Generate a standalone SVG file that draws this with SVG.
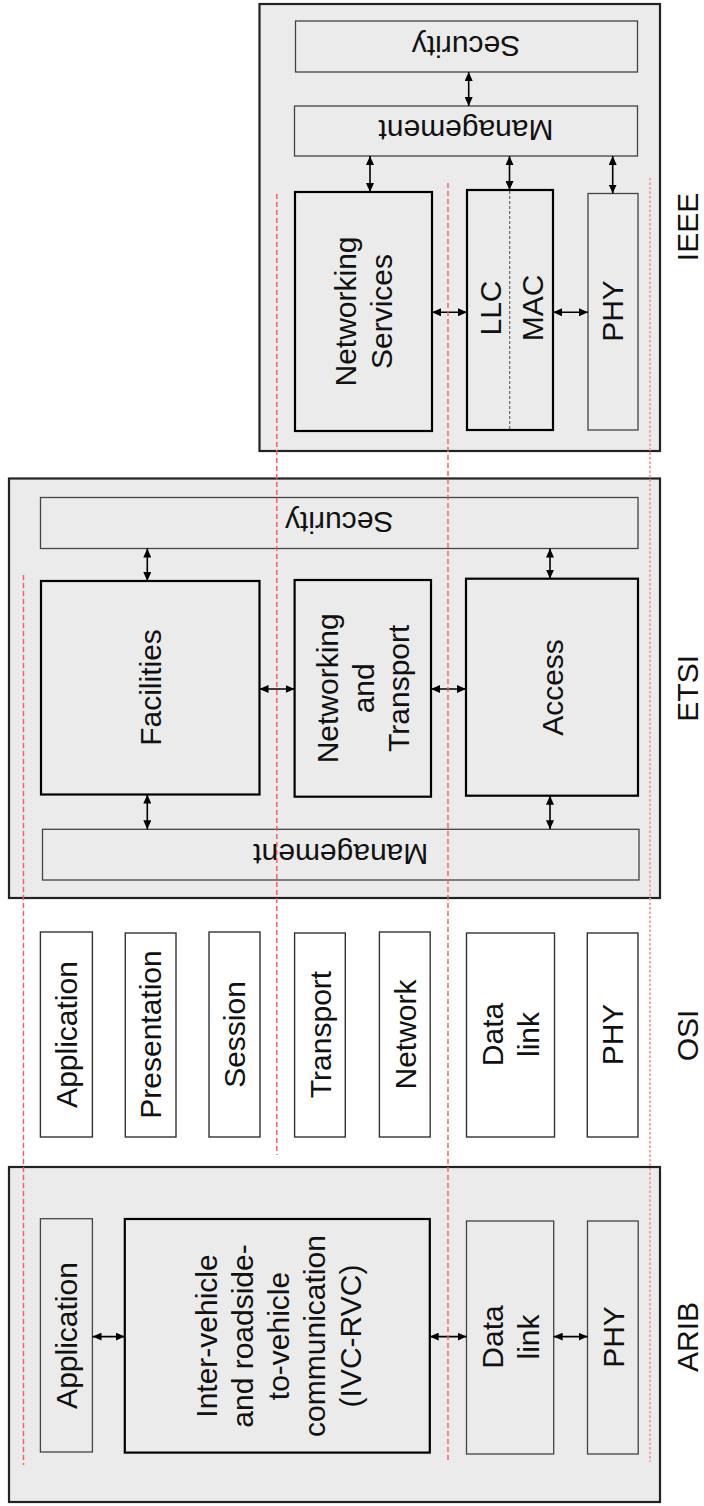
<svg xmlns="http://www.w3.org/2000/svg" width="704" height="1506" viewBox="0 0 704 1506">
<style>
.bg{fill:#fff}
.outer{fill:#ebebeb;stroke:#222;stroke-width:2.2}
.thick{fill:#ebebeb;stroke:#000;stroke-width:2.2}
.thin{fill:#ebebeb;stroke:#444;stroke-width:1.3}
.osi{fill:#fff;stroke:#333;stroke-width:1.4}
.t{font-family:"Liberation Sans",Arial,sans-serif;font-size:30px;fill:#111;text-anchor:middle}
.arr{stroke:#000;stroke-width:1.6;fill:none;marker-start:url(#ah);marker-end:url(#ah)}
.red{stroke:#ff5656;stroke-width:1.4;stroke-dasharray:5 3;fill:none}
.pale{stroke:#f6a3a3;stroke-width:2;stroke-dasharray:2.5 2;fill:none}
.div{stroke:#666;stroke-width:1.2;stroke-dasharray:3 2;fill:none}
</style>
<defs>
<marker id="ah" viewBox="0 0 9 8" refX="9" refY="4" markerWidth="9" markerHeight="8" markerUnits="userSpaceOnUse" orient="auto-start-reverse">
<path d="M0,0 L9,4 L0,8 z" fill="#000"/>
</marker>
</defs>
<rect class="bg" x="0" y="0" width="704" height="1506"/>

<g id="ieee">
<rect class="outer" x="259.5" y="4" width="400.5" height="447"/>
<text class="t" transform="translate(687.5,227) rotate(-90)" y="10.7">IEEE</text>
</g>
<g id="ieee-security">
<rect class="thin" x="295.5" y="21" width="342" height="51"/>
<text class="t" transform="translate(466,46.3) rotate(180)" y="10.7">Security</text>
</g>
<g id="ieee-management">
<rect class="thin" x="294.5" y="106" width="343" height="50"/>
<text class="t" transform="translate(466,131) rotate(180)" y="10.7">Management</text>
</g>
<g id="ieee-networking-services">
<rect class="thick" x="295" y="192" width="137" height="239"/>
<text class="t" transform="translate(363.5,311.5) rotate(-90)"><tspan x="0" y="-7.3">Networking</tspan><tspan x="0" y="28.7">Services</tspan></text>
</g>
<g id="ieee-llc-mac">
<rect class="thick" x="467" y="190" width="86" height="240"/>
<line class="div" x1="509.7" y1="191" x2="509.7" y2="429"/>
<text class="t" transform="translate(490.5,308) rotate(-90)" y="10.7">LLC</text>
<text class="t" transform="translate(532,308) rotate(-90)" y="10.7">MAC</text>
</g>
<g id="ieee-phy">
<rect class="thin" x="588" y="193.5" width="50" height="236.5"/>
<text class="t" transform="translate(612.5,311) rotate(-90)" y="10.7">PHY</text>
</g>

<g id="etsi">
<rect class="outer" x="9" y="478.5" width="651" height="419.5"/>
<text class="t" transform="translate(687.5,688.3) rotate(-90)" y="10.7">ETSI</text>
</g>
<g id="etsi-security">
<rect class="thin" x="40.5" y="497.5" width="597.5" height="51"/>
<text class="t" transform="translate(339.2,522.8) rotate(180)" y="10.7">Security</text>
</g>
<g id="etsi-facilities">
<rect class="thick" x="41" y="581" width="218.5" height="213.5"/>
<text class="t" transform="translate(150.3,687.5) rotate(-90)" y="10.7">Facilities</text>
</g>
<g id="etsi-networking-transport">
<rect class="thick" x="294.6" y="580" width="136.4" height="216.7"/>
<text class="t" transform="translate(362.8,688.3) rotate(-90)"><tspan x="0" y="-25.3">Networking</tspan><tspan x="0" y="10.7">and</tspan><tspan x="0" y="46.7">Transport</tspan></text>
</g>
<g id="etsi-access">
<rect class="thick" x="466" y="578.7" width="172" height="217"/>
<text class="t" transform="translate(552,687.5) rotate(-90)" y="10.7">Access</text>
</g>
<g id="etsi-management">
<rect class="thin" x="42.5" y="829.3" width="596.5" height="50.7"/>
<text class="t" transform="translate(340.8,854.6) rotate(180)" y="10.7">Management</text>
</g>

<g id="osi">
<text class="t" transform="translate(687.5,1035.4) rotate(-90)" y="10.7">OSI</text>
</g>
<g id="osi-application">
<rect class="osi" x="40.4" y="932" width="52" height="205"/>
<text class="t" transform="translate(66.4,1034.5) rotate(-90)" y="10.7">Application</text>
</g>
<g id="osi-presentation">
<rect class="osi" x="125.3" y="933" width="50.7" height="204"/>
<text class="t" transform="translate(150.7,1034.5) rotate(-90)" y="10.7">Presentation</text>
</g>
<g id="osi-session">
<rect class="osi" x="209" y="932" width="51" height="205"/>
<text class="t" transform="translate(234.5,1034.5) rotate(-90)" y="10.7">Session</text>
</g>
<g id="osi-transport">
<rect class="osi" x="294.6" y="933" width="50.7" height="204"/>
<text class="t" transform="translate(320,1034.5) rotate(-90)" y="10.7">Transport</text>
</g>
<g id="osi-network">
<rect class="osi" x="379.4" y="932" width="50.8" height="205"/>
<text class="t" transform="translate(404.8,1034.5) rotate(-90)" y="10.7">Network</text>
</g>
<g id="osi-data-link">
<rect class="osi" x="466.5" y="933" width="88" height="204"/>
<text class="t" transform="translate(510.5,1034.5) rotate(-90)"><tspan x="0" y="-7.3">Data</tspan><tspan x="0" y="28.7">link</tspan></text>
</g>
<g id="osi-phy">
<rect class="osi" x="587.3" y="933" width="50.7" height="204"/>
<text class="t" transform="translate(612.7,1034.5) rotate(-90)" y="10.7">PHY</text>
</g>

<g id="arib">
<rect class="outer" x="9" y="1167" width="651" height="335"/>
<text class="t" transform="translate(687.5,1337) rotate(-90)" y="10.7">ARIB</text>
</g>
<g id="arib-application">
<rect class="thin" x="40.4" y="1218.7" width="52" height="233.3"/>
<text class="t" transform="translate(66.4,1335.5) rotate(-90)" y="10.7">Application</text>
</g>
<g id="arib-ivc-rvc">
<rect class="thick" x="124.8" y="1219" width="305" height="233.6"/>
<text class="t" transform="translate(278,1336) rotate(-90)"><tspan x="0" y="-61.3">Inter-vehicle</tspan><tspan x="0" y="-25.3">and roadside-</tspan><tspan x="0" y="10.7">to-vehicle</tspan><tspan x="0" y="46.7">communication</tspan><tspan x="0" y="82.7">(IVC-RVC)</tspan></text>
</g>
<g id="arib-data-link">
<rect class="thin" x="466.5" y="1221" width="87.2" height="233"/>
<text class="t" transform="translate(510,1337) rotate(-90)"><tspan x="0" y="-7.3">Data</tspan><tspan x="0" y="28.7">link</tspan></text>
</g>
<g id="arib-phy">
<rect class="thin" x="587.5" y="1221" width="50.7" height="233"/>
<text class="t" transform="translate(612.8,1337) rotate(-90)" y="10.7">PHY</text>
</g>

<g id="connectors">
<line class="arr" x1="468.7" y1="72" x2="468.7" y2="106"/>
<line class="arr" x1="370" y1="156" x2="370" y2="192"/>
<line class="arr" x1="509.5" y1="156" x2="509.5" y2="190"/>
<line class="arr" x1="612.7" y1="156" x2="612.7" y2="193.5"/>
<line class="arr" x1="432" y1="312.3" x2="467" y2="312.3"/>
<line class="arr" x1="553" y1="312.3" x2="588" y2="312.3"/>
<line class="arr" x1="147.3" y1="548.5" x2="147.3" y2="581"/>
<line class="arr" x1="147.3" y1="794.5" x2="147.3" y2="829.3"/>
<line class="arr" x1="550" y1="548.5" x2="550" y2="578.7"/>
<line class="arr" x1="550" y1="795.7" x2="550" y2="829.3"/>
<line class="arr" x1="259.5" y1="689" x2="294.6" y2="689"/>
<line class="arr" x1="431" y1="689" x2="466" y2="689"/>
<line class="arr" x1="92.5" y1="1336.6" x2="124.8" y2="1336.6"/>
<line class="arr" x1="429.7" y1="1336.6" x2="466.5" y2="1336.6"/>
<line class="arr" x1="553.7" y1="1336.6" x2="587.5" y2="1336.6"/>
</g>

<g id="layer-guides">
<line class="red" x1="23.5" y1="575" x2="23.5" y2="1465"/>
<line class="red" x1="276.8" y1="194" x2="276.8" y2="1155"/>
<line class="red" x1="448" y1="183" x2="448" y2="1463"/>
<line class="pale" x1="650" y1="178" x2="650" y2="1462"/>
</g>
</svg>
